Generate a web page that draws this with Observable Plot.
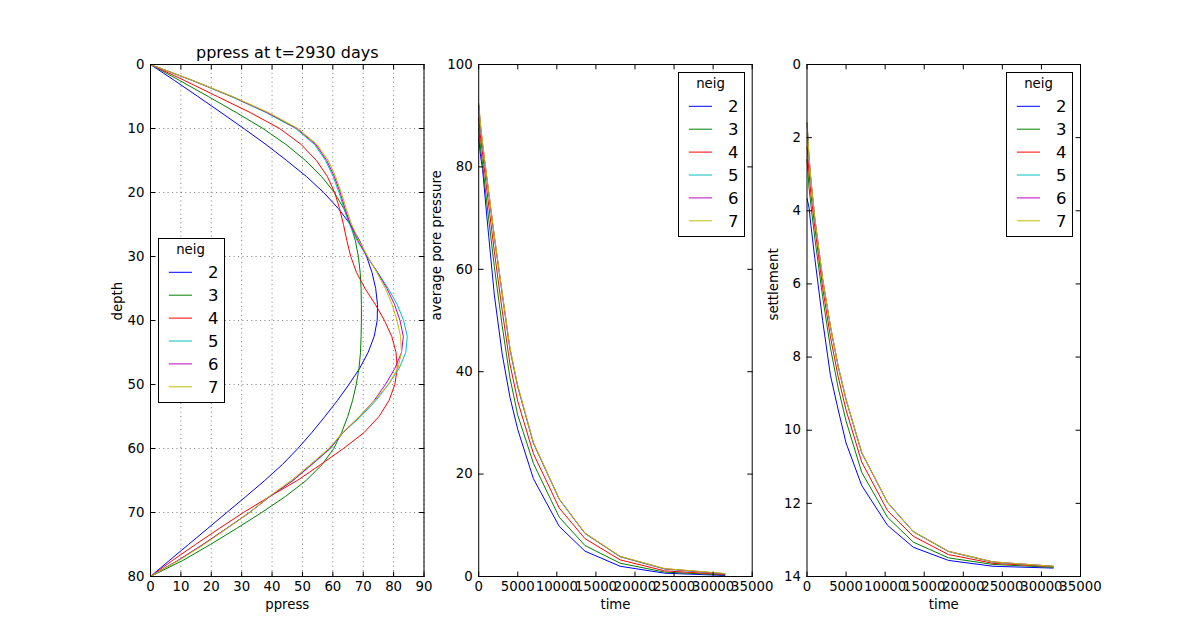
<!DOCTYPE html>
<html><head><meta charset="utf-8">
<script src="https://cdn.jsdelivr.net/npm/d3@7"></script>
<script src="https://cdn.jsdelivr.net/npm/@observablehq/plot@0.6"></script>
<style>
body{margin:0;background:#fff;}
#chart{position:relative;width:1200px;height:640px;background:#fff;font-family:"DejaVu Sans",sans-serif;}
#chart svg.plotpanel{position:absolute;left:0;top:0;overflow:visible;}
</style></head><body><div id="chart"></div>
<script>
// ---------- data ----------
const neigs = [2, 3, 4, 5, 6, 7];
const colors = ["#0000ff", "#008000", "#ff0000", "#00bfbf", "#bf00bf", "#bfbf00"];

// panel 1: pore pressure profile at t=2930 days
const depths = [0, 2.5, 5, 7.5, 10, 12.5, 15, 17.5, 20, 22.5, 25, 27.5, 30, 32.5, 35, 37.5, 40, 42.5, 45, 47.5, 50, 52.5, 55, 57.5, 60, 62.5, 65, 67.5, 70, 72.5, 75, 77.5, 80];
const ppress2 = [0, 7.9, 15.6, 23.2, 30.7, 38, 44.8, 51.3, 57, 61.8, 65.8, 68.8, 71.1, 72.9, 74.1, 74.7, 74.6, 73.6, 71.6, 68.8, 65.3, 61.5, 57.4, 53.1, 48.5, 43.4, 37.6, 31.4, 25.1, 18.8, 12.5, 6.2, 0];
const ppress3 = [0, 9.6, 19, 28.2, 37, 44.6, 51, 56.3, 60.5, 63.6, 65.8, 67.4, 68.4, 69, 69.3, 69.4, 69.4, 69.3, 69.1, 68.6, 67.7, 66.5, 64.9, 62.9, 60.3, 56.5, 51.2, 44.4, 36.6, 28.3, 19.7, 10.6, 0];
const ppress4 = [0, 11.2, 22, 32.8, 42.5, 49.6, 54.6, 58.2, 60.6, 62.2, 63.5, 64.6, 65.9, 67.8, 70.6, 74, 77, 79.4, 80.8, 81.2, 80.4, 78.5, 75.2, 70.3, 63.5, 56, 48.3, 39.2, 30.6, 22.6, 14.8, 7.2, 0];
const ppress5 = [0, 13.7, 26.5, 38, 47.8, 54, 57.6, 60.1, 62, 63.7, 65.5, 68, 71.2, 74.8, 78.2, 81.2, 83.3, 84.5, 84, 81.8, 78.3, 74.2, 69.2, 63.4, 59.2, 53.2, 46.8, 39.2, 32.6, 25, 17.3, 9.1, 0];
const ppress6 = [0, 13.9, 26.8, 38.4, 48.2, 54.4, 58, 60.5, 62.4, 64, 65.8, 68.3, 71.3, 74.7, 77.8, 80.3, 82.1, 83.2, 82.6, 80.4, 77.3, 73.6, 68.8, 63.4, 59, 53, 46.9, 39.3, 32.6, 25, 17.2, 9, 0];
const ppress7 = [0, 14, 27, 38.8, 48.5, 54.8, 58.5, 60.9, 62.8, 64.4, 66.2, 68.6, 71.5, 74.5, 77.3, 79.5, 81.1, 82.3, 82.6, 81.4, 78.3, 73.8, 68.7, 63.3, 58.7, 52.6, 46.3, 39, 32.7, 25.2, 17.6, 9.3, 0];
const ppressSeries = [ppress2, ppress3, ppress4, ppress5, ppress6, ppress7];

// panels 2 and 3: time histories
const times = [10, 250, 500, 1000, 2000, 3000, 4000, 5000, 7000, 10300, 13600, 18100, 23800, 31500];
const avgpp2 = [85.5, 82, 79.5, 71, 55, 43.5, 35, 28.7, 19.1, 9.8, 4.95, 2.0, 0.65, 0.2];
const avgpp3 = [87.5, 83.5, 80.5, 73.5, 60.5, 49, 38.8, 31.5, 22.1, 11.6, 6.05, 2.6, 0.85, 0.3];
const avgpp4 = [89.5, 85.5, 82.5, 76, 63.5, 52, 41.5, 34.2, 24, 13.4, 7.4, 3.25, 1.1, 0.4];
const avgpp5 = [91.8, 87.5, 84.2, 78.2, 66.2, 55.2, 44.3, 37, 26, 15.1, 8.4, 3.85, 1.45, 0.5];
const avgpp6 = [92.1, 87.8, 84.4, 78.4, 66.4, 55.4, 44.5, 37.1, 26.1, 15.15, 8.45, 3.9, 1.5, 0.55];
const avgpp7 = [92.4, 88, 84.6, 78.6, 66.6, 55.6, 44.7, 37.3, 26.2, 15.2, 8.5, 3.95, 1.55, 0.6];
const avgppSeries = [avgpp2, avgpp3, avgpp4, avgpp5, avgpp6, avgpp7];

const settle2 = [3.67, 3.9, 4.4, 5.3, 7.0, 8.5, 9.45, 10.35, 11.51, 12.6, 13.2, 13.56, 13.72, 13.77];
const settle3 = [2.6, 3.35, 3.85, 4.75, 6.35, 7.75, 8.85, 9.75, 11.15, 12.38, 13.06, 13.49, 13.67, 13.75];
const settle4 = [2.25, 2.95, 3.55, 4.45, 6.1, 7.45, 8.55, 9.45, 10.87, 12.2, 12.9, 13.4, 13.64, 13.73];
const settle5 = [1.62, 2.52, 3.17, 4.22, 5.87, 7.17, 8.27, 9.17, 10.62, 11.98, 12.78, 13.32, 13.61, 13.72];
const settle6 = [1.6, 2.51, 3.16, 4.21, 5.86, 7.16, 8.26, 9.16, 10.61, 11.97, 12.77, 13.31, 13.6, 13.72];
const settle7 = [1.58, 2.5, 3.15, 4.2, 5.85, 7.15, 8.25, 9.15, 10.6, 11.97, 12.77, 13.31, 13.6, 13.72];
const settleSeries = [settle2, settle3, settle4, settle5, settle6, settle7];

// tick values and labels
const ppressTicks = [0, 10, 20, 30, 40, 50, 60, 70, 80, 90];
const depthTicks = [0, 10, 20, 30, 40, 50, 60, 70, 80];
const timeTicks = [0, 5000, 10000, 15000, 20000, 25000, 30000, 35000];
const avgppTicks = [0, 20, 40, 60, 80, 100];
const settleTicks = [0, 2, 4, 6, 8, 10, 12, 14];
const title1 = "ppress at t=2930 days";
const legendTitle = "neig";

// ---------- layout ----------
const W = 1200, H = 640, MT = 64, MB = 64;
const frames = [[150, 423.5], [478.2, 751.7], [806.5, 1080]];
const tickShape = {draw(ctx, l) { ctx.moveTo(0, 0); ctx.lineTo(0, -l); }};

function inwardTicks(xt, yt) {
  const o = {length: 4.5, anchor: "start", shape: tickShape, stroke: "black", strokeWidth: 1};
  return [
    Plot.vector(xt, {...o, x: d => d, frameAnchor: "bottom", rotate: 0}),
    Plot.vector(xt, {...o, x: d => d, frameAnchor: "top", rotate: 180}),
    Plot.vector(yt, {...o, y: d => d, frameAnchor: "left", rotate: 90}),
    Plot.vector(yt, {...o, y: d => d, frameAnchor: "right", rotate: -90})
  ];
}

function panel(i, cfg) {
  const [l, r] = frames[i];
  const marks = [];
  if (cfg.grid) {
    const g = {stroke: "black", strokeWidth: 0.6, strokeOpacity: 0.8, strokeDasharray: "1.1,3.3"};
    marks.push(Plot.ruleX(cfg.xTicks, {...g, x: d => d}));
    marks.push(Plot.ruleY(cfg.yTicks, {...g, y: d => d}));
  }
  marks.push(...cfg.lines);
  marks.push(Plot.frame({stroke: "black", strokeWidth: 1}));
  marks.push(...inwardTicks(cfg.xTicks, cfg.yTicks));
  marks.push(Plot.axisX(cfg.xTicks, {anchor: "bottom", tickSize: 0, tickPadding: 5, tickFormat: d => String(d), label: null}));
  marks.push(Plot.axisY(cfg.yTicks, {anchor: "left", tickSize: 0, tickPadding: 6, tickFormat: d => String(d), label: null}));
  marks.push(Plot.text([cfg.xLabel], {text: d => d, frameAnchor: "bottom", dy: 28, lineAnchor: "middle"}));
  marks.push(Plot.text([cfg.yLabel], {text: d => d, frameAnchor: "left", dx: cfg.yLabelDx, rotate: -90, lineAnchor: "middle"}));
  if (cfg.title) marks.push(Plot.text([cfg.title], {text: d => d, frameAnchor: "top", dy: -12, lineAnchor: "middle", fontSize: 16}));
  const svg = Plot.plot({
    width: W, height: H, marginTop: MT, marginBottom: MB, marginLeft: l, marginRight: W - r,
    style: {background: "transparent", fontFamily: "DejaVu Sans", fontSize: "13.3px", color: "black", overflow: "visible"},
    x: {domain: cfg.xDomain},
    y: {domain: cfg.yDomain, reverse: cfg.yReverse},
    marks
  });
  svg.classList.add("plotpanel");
  return svg;
}

function legend(left, top) {
  const svg = d3.create("svg")
    .attr("width", 68).attr("height", 166)
    .style("position", "absolute").style("left", left + "px").style("top", top + "px")
    .style("overflow", "visible");
  svg.append("rect").attr("x", 0.5).attr("y", 0.5).attr("width", 66).attr("height", 164)
    .attr("fill", "white").attr("stroke", "black").attr("stroke-width", 1);
  svg.append("text").attr("x", 32.5).attr("y", 15.5).attr("text-anchor", "middle")
    .attr("font-family", "DejaVu Sans").attr("font-size", 13.3).text(legendTitle);
  neigs.forEach((n, i) => {
    const y = 34.3 + 22.9 * i;
    svg.append("line").attr("x1", 10.8).attr("x2", 34).attr("y1", y).attr("y2", y)
      .attr("stroke", colors[i]).attr("stroke-width", 1);
    svg.append("text").attr("x", 50).attr("y", y + 6)
      .attr("font-family", "DejaVu Sans").attr("font-size", 16.5).text(String(n));
  });
  return svg.node();
}

const chart = document.getElementById("chart");

chart.appendChild(panel(0, {
  xDomain: [0, 90], yDomain: [0, 80], yReverse: true,
  xTicks: ppressTicks, yTicks: depthTicks, grid: true,
  xLabel: "ppress", yLabel: "depth", yLabelDx: -33, title: title1,
  lines: ppressSeries.map((s, k) => Plot.line(depths, {x: (d, j) => s[j], y: d => d, stroke: colors[k], strokeWidth: 1}))
}));

chart.appendChild(panel(1, {
  xDomain: [0, 35000], yDomain: [0, 100], yReverse: false,
  xTicks: timeTicks, yTicks: avgppTicks, grid: false,
  xLabel: "time", yLabel: "average pore pressure", yLabelDx: -41.5,
  lines: avgppSeries.map((s, k) => Plot.line(times, {x: d => d, y: (d, j) => s[j], stroke: colors[k], strokeWidth: 1}))
}));

chart.appendChild(panel(2, {
  xDomain: [0, 35000], yDomain: [0, 14], yReverse: true,
  xTicks: timeTicks, yTicks: settleTicks, grid: false,
  xLabel: "time", yLabel: "settlement", yLabelDx: -33.5,
  lines: settleSeries.map((s, k) => Plot.line(times, {x: d => d, y: (d, j) => s[j], stroke: colors[k], strokeWidth: 1}))
}));

chart.appendChild(legend(158, 238));
chart.appendChild(legend(678, 72));
chart.appendChild(legend(1006, 72));
</script></body></html>
